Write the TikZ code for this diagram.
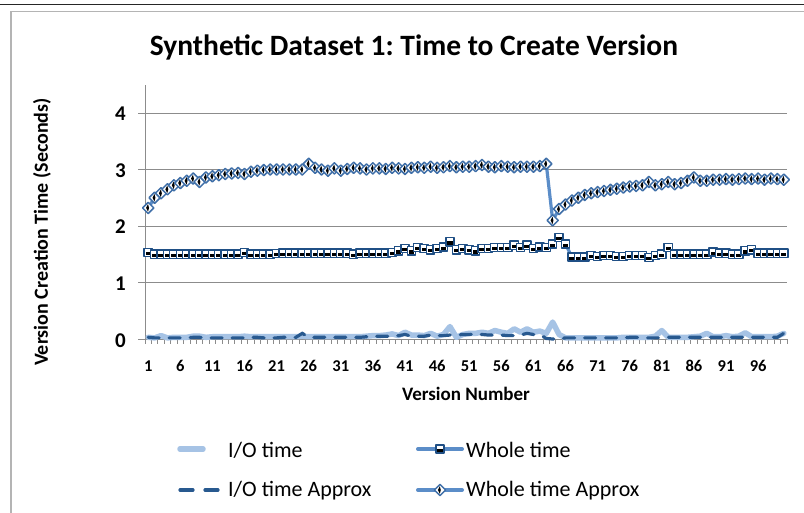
\documentclass[tikz,border=0pt]{standalone}
\usepackage{fontspec}
\setmainfont{Carlito}
\frenchspacing
\definecolor{iolight}{HTML}{A6C3E5}
\definecolor{iodark}{HTML}{28598F}
\definecolor{wline}{HTML}{5B8DC8}
\definecolor{sqborder}{HTML}{1F4F85}
\definecolor{diaborder}{HTML}{3F6FA8}
\definecolor{gridgray}{HTML}{8C8C8C}
\definecolor{framegray}{HTML}{B4B4B4}
\pgfdeclareplotmark{wsq}{%
  \pgfsetlinewidth{1.4pt}%
  \pgfsetstrokecolor{sqborder}\pgfsetfillcolor{white}%
  \pgfpathrectangle{\pgfpoint{-4.1pt}{-4.1pt}}{\pgfpoint{8.2pt}{8.2pt}}%
  \pgfusepath{fill,stroke}%
  \pgfsetfillcolor{black}%
  \pgfpathrectangle{\pgfpoint{-2.6pt}{-2.7pt}}{\pgfpoint{5.2pt}{3.1pt}}%
  \pgfusepath{fill}%
}
\pgfdeclareplotmark{wdia}{%
  \pgfsetlinewidth{1.5pt}%
  \pgfsetstrokecolor{diaborder}\pgfsetfillcolor{white}%
  \pgfpathmoveto{\pgfpoint{0pt}{5.6pt}}\pgfpathlineto{\pgfpoint{5.6pt}{0pt}}%
  \pgfpathlineto{\pgfpoint{0pt}{-5.6pt}}\pgfpathlineto{\pgfpoint{-5.6pt}{0pt}}\pgfpathclose
  \pgfusepath{fill,stroke}%
  \pgfsetfillcolor{black}%
  \pgfpathmoveto{\pgfpoint{-0.2pt}{3.8pt}}\pgfpathlineto{\pgfpoint{-2.1pt}{0pt}}%
  \pgfpathlineto{\pgfpoint{-0.2pt}{-3.8pt}}\pgfpathlineto{\pgfpoint{0.8pt}{0pt}}\pgfpathclose
  \pgfusepath{fill}%
}
\tikzset{
  ticklab/.style={font=\fontsize{16.5}{19}\selectfont\bfseries, inner sep=0pt},
  ytick/.style={font=\fontsize{21}{25}\selectfont\bfseries, inner sep=0pt, anchor=east},
  ylab/.style={font=\fontsize{19}{23}\selectfont\bfseries, inner sep=0pt},
  leglab/.style={font=\fontsize{22}{26}\selectfont, inner sep=0pt, anchor=west},
  grid/.style={draw=gridgray, line width=1pt},
  ioline/.style={draw=iolight, line width=5.5pt, line cap=round, line join=round},
  iadash/.style={draw=iodark, line width=3.2pt, line cap=round, dash pattern=on 11pt off 10pt},
  wholeline/.style={draw=wline, line width=3.2pt, line cap=round, line join=round},
}
\begin{document}
\begin{tikzpicture}[x=1pt,y=-1pt]
\useasboundingbox (0,0) rectangle (804,512);
\fill[white] (0,0) rectangle (804,512);
\draw[black!85, line width=1.2pt] (0,4.6) -- (804,4.6);
\draw[framegray, line width=1.5pt] (11,520) -- (11,11.5) -- (810,11.5);
% title and axis titles
\node[font=\fontsize{29.5}{34}\selectfont\bfseries, inner sep=0pt] (title) at (414,47) {Synthetic Dataset 1: Time to Create Version};
\node[ylab, rotate=90, font=\fontsize{20}{24}\selectfont\bfseries] (ytitle) at (42,232) {Version Creation Time (Seconds)};
\node[ylab] (xtitle) at (466,394) {Version Number};
% grid and axes
\foreach \v in {1,...,4} {
  \draw[grid] (138,{339-56.5*\v}) -- (787,{339-56.5*\v});
  \node[ytick] (yt\v) at (126,{340-56.5*\v}) {\v};
}
\node[ytick] (yt0) at (126,341) {0};
\draw[grid] (145,85) -- (145,339);
\draw[grid] (138,339) -- (787,339);
\foreach \k in {0,...,100} \draw[gridgray, line width=0.8pt] ({145+6.42*\k},339) -- ({145+6.42*\k},344);
\foreach \i in {1,6,...,96} \node[ticklab] (xt\i) at ({145+6.42*(\i-0.5)},366) {\i};
% data
\begin{scope}[shift={(141.79,339)}, x=6.42pt, y=56.5pt]
\draw[ioline] plot coordinates {(1,0.03)(2,0.02)(3,0.06)(4,0.02)(5,0.03)(6,0.03)(7,0.03)(8,0.05)(9,0.05)(10,0.03)(11,0.04)(12,0.04)(13,0.04)(14,0.04)(15,0.04)(16,0.05)(17,0.04)(18,0.04)(19,0.04)(20,0.04)(21,0.04)(22,0.04)(23,0.04)(24,0.04)(25,0.05)(26,0.04)(27,0.04)(28,0.04)(29,0.04)(30,0.04)(31,0.04)(32,0.04)(33,0.04)(34,0.04)(35,0.05)(36,0.06)(37,0.06)(38,0.07)(39,0.09)(40,0.06)(41,0.12)(42,0.07)(43,0.07)(44,0.06)(45,0.10)(46,0.05)(47,0.08)(48,0.22)(49,0.03)(50,0.08)(51,0.10)(52,0.10)(53,0.12)(54,0.10)(55,0.15)(56,0.12)(57,0.10)(58,0.18)(59,0.12)(60,0.18)(61,0.12)(62,0.14)(63,0.10)(64,0.30)(65,0.08)(66,0.02)(67,0.02)(68,0.02)(69,0.02)(70,0.02)(71,0.02)(72,0.02)(73,0.02)(74,0.02)(75,0.03)(76,0.03)(77,0.03)(78,0.03)(79,0.03)(80,0.05)(81,0.15)(82,0.03)(83,0.03)(84,0.03)(85,0.03)(86,0.04)(87,0.05)(88,0.10)(89,0.04)(90,0.04)(91,0.06)(92,0.04)(93,0.05)(94,0.11)(95,0.04)(96,0.04)(97,0.04)(98,0.04)(99,0.05)(100,0.10)};
\draw[iadash] plot coordinates {(1,0.03)(2,0.02)(3,0.02)(4,0.02)(5,0.02)(6,0.02)(7,0.02)(8,0.03)(9,0.03)(10,0.02)(11,0.02)(12,0.02)(13,0.02)(14,0.02)(15,0.02)(16,0.02)(17,0.03)(18,0.03)(19,0.02)(20,0.02)(21,0.02)(22,0.03)(23,0.03)(24,0.03)(25,0.10)(26,0.03)(27,0.03)(28,0.03)(29,0.03)(30,0.03)(31,0.03)(32,0.03)(33,0.03)(34,0.03)(35,0.04)(36,0.05)(37,0.05)(38,0.05)(39,0.05)(40,0.06)(41,0.08)(42,0.05)(43,0.05)(44,0.05)(45,0.07)(46,0.06)(47,0.06)(48,0.07)(49,0.07)(50,0.08)(51,0.08)(52,0.09)(53,0.08)(54,0.07)(55,0.07)(56,0.07)(57,0.06)(58,0.06)(59,0.07)(60,0.10)(61,0.08)(62,0.08)(63,0.01)(64,0.00)(65,0.00)(66,0.02)(67,0.02)(68,0.02)(69,0.02)(70,0.02)(71,0.02)(72,0.02)(73,0.02)(74,0.02)(75,0.02)(76,0.03)(77,0.03)(78,0.02)(79,0.02)(80,0.02)(81,0.02)(82,0.03)(83,0.03)(84,0.03)(85,0.03)(86,0.03)(87,0.03)(88,0.03)(89,0.03)(90,0.03)(91,0.03)(92,0.03)(93,0.03)(94,0.03)(95,0.03)(96,0.03)(97,0.03)(98,0.03)(99,0.03)(100,0.10)};
\draw[wholeline] plot[mark=wsq] coordinates {(1,1.53)(2,1.50)(3,1.50)(4,1.50)(5,1.50)(6,1.50)(7,1.50)(8,1.50)(9,1.50)(10,1.50)(11,1.50)(12,1.50)(13,1.50)(14,1.50)(15,1.50)(16,1.53)(17,1.50)(18,1.50)(19,1.50)(20,1.50)(21,1.51)(22,1.52)(23,1.52)(24,1.52)(25,1.52)(26,1.52)(27,1.52)(28,1.52)(29,1.52)(30,1.52)(31,1.52)(32,1.52)(33,1.50)(34,1.52)(35,1.52)(36,1.52)(37,1.52)(38,1.52)(39,1.53)(40,1.56)(41,1.60)(42,1.56)(43,1.62)(44,1.60)(45,1.58)(46,1.60)(47,1.63)(48,1.72)(49,1.58)(50,1.60)(51,1.58)(52,1.56)(53,1.60)(54,1.60)(55,1.62)(56,1.62)(57,1.62)(58,1.66)(59,1.62)(60,1.66)(61,1.60)(62,1.63)(63,1.62)(64,1.68)(65,1.80)(66,1.68)(67,1.45)(68,1.45)(69,1.45)(70,1.48)(71,1.46)(72,1.48)(73,1.48)(74,1.46)(75,1.46)(76,1.48)(77,1.48)(78,1.48)(79,1.44)(80,1.48)(81,1.50)(82,1.62)(83,1.50)(84,1.50)(85,1.50)(86,1.50)(87,1.50)(88,1.50)(89,1.54)(90,1.52)(91,1.52)(92,1.50)(93,1.50)(94,1.56)(95,1.58)(96,1.52)(97,1.52)(98,1.52)(99,1.52)(100,1.52)};
\draw[wholeline] plot[mark=wdia] coordinates {(1,2.32)(2,2.50)(3,2.58)(4,2.65)(5,2.72)(6,2.76)(7,2.80)(8,2.84)(9,2.78)(10,2.86)(11,2.88)(12,2.90)(13,2.92)(14,2.93)(15,2.94)(16,2.92)(17,2.96)(18,2.98)(19,2.99)(20,3.00)(21,3.00)(22,3.00)(23,3.00)(24,3.00)(25,3.00)(26,3.10)(27,3.03)(28,3.00)(29,2.98)(30,3.02)(31,2.98)(32,3.01)(33,3.03)(34,3.02)(35,3.00)(36,3.02)(37,3.02)(38,3.01)(39,3.03)(40,3.02)(41,3.01)(42,3.03)(43,3.04)(44,3.03)(45,3.05)(46,3.03)(47,3.04)(48,3.06)(49,3.04)(50,3.05)(51,3.05)(52,3.06)(53,3.08)(54,3.05)(55,3.04)(56,3.06)(57,3.05)(58,3.04)(59,3.05)(60,3.05)(61,3.05)(62,3.06)(63,3.10)(64,2.10)(65,2.30)(66,2.38)(67,2.45)(68,2.50)(69,2.55)(70,2.58)(71,2.60)(72,2.62)(73,2.64)(74,2.66)(75,2.68)(76,2.70)(77,2.71)(78,2.72)(79,2.78)(80,2.72)(81,2.74)(82,2.78)(83,2.74)(84,2.76)(85,2.80)(86,2.86)(87,2.80)(88,2.80)(89,2.82)(90,2.82)(91,2.83)(92,2.82)(93,2.83)(94,2.84)(95,2.83)(96,2.84)(97,2.82)(98,2.84)(99,2.83)(100,2.82)};
\end{scope}
% legend
\coordinate (l1a) at (180,449); \coordinate (l1b) at (203,449);
\draw[ioline] (l1a) -- (l1b);
\node[leglab] (leg1) at (228,450) {I/O time};
\coordinate (l2a) at (180,490); \coordinate (l2b) at (221,490);
\draw[iadash, dash pattern=on 13pt off 12pt] (l2a) -- (l2b);
\node[leglab] (leg2) at (228,491) {I/O time Approx};
\draw[wholeline, line width=4pt] plot[mark=wsq, mark indices={2}] coordinates {(418,449)(440,449)(462,449)};
\node[leglab] (leg3) at (466,450) {Whole time};
\draw[wholeline, line width=4pt] plot[mark=wdia, mark indices={2}] coordinates {(418,490)(440,490)(462,490)};
\node[leglab] (leg4) at (466,491) {Whole time Approx};
\end{tikzpicture}
\end{document}
